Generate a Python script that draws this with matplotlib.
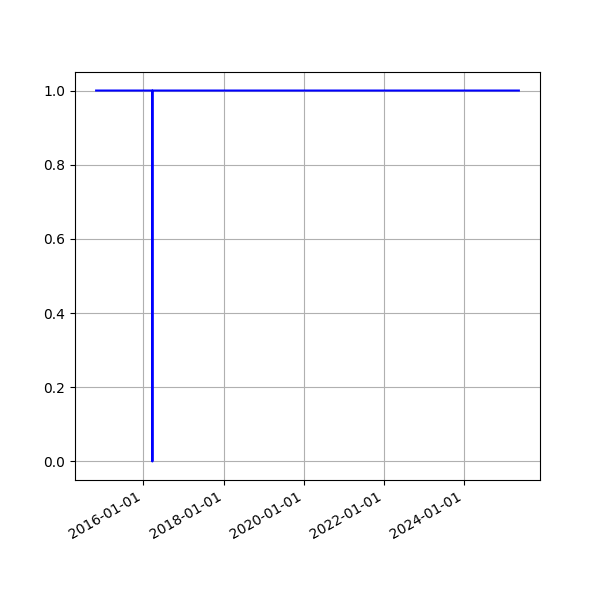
import matplotlib
matplotlib.use('Agg')
import matplotlib.pyplot as plt
import matplotlib.dates as mdates
import pandas as pd

# 日付と値（1日だけ0に落ちている）
dates = ['2014-10-27', '2016-03-22', '2016-03-23', '2016-03-24', '2025-05-18']
values = [1, 1, 0, 1, 1]


def main():
    x = pd.to_datetime(dates)
    fig, ax = plt.subplots(figsize=(6, 6), dpi=100)
    ax.plot(x, values, color='b', linewidth=1.5)
    ax.grid(True)
    ax.xaxis.set_major_locator(mdates.YearLocator(2))
    ax.xaxis.set_major_formatter(mdates.DateFormatter('%Y-%m-%d'))
    fig.autofmt_xdate()
    plt.savefig('out.png')


if __name__ == '__main__':
    main()
